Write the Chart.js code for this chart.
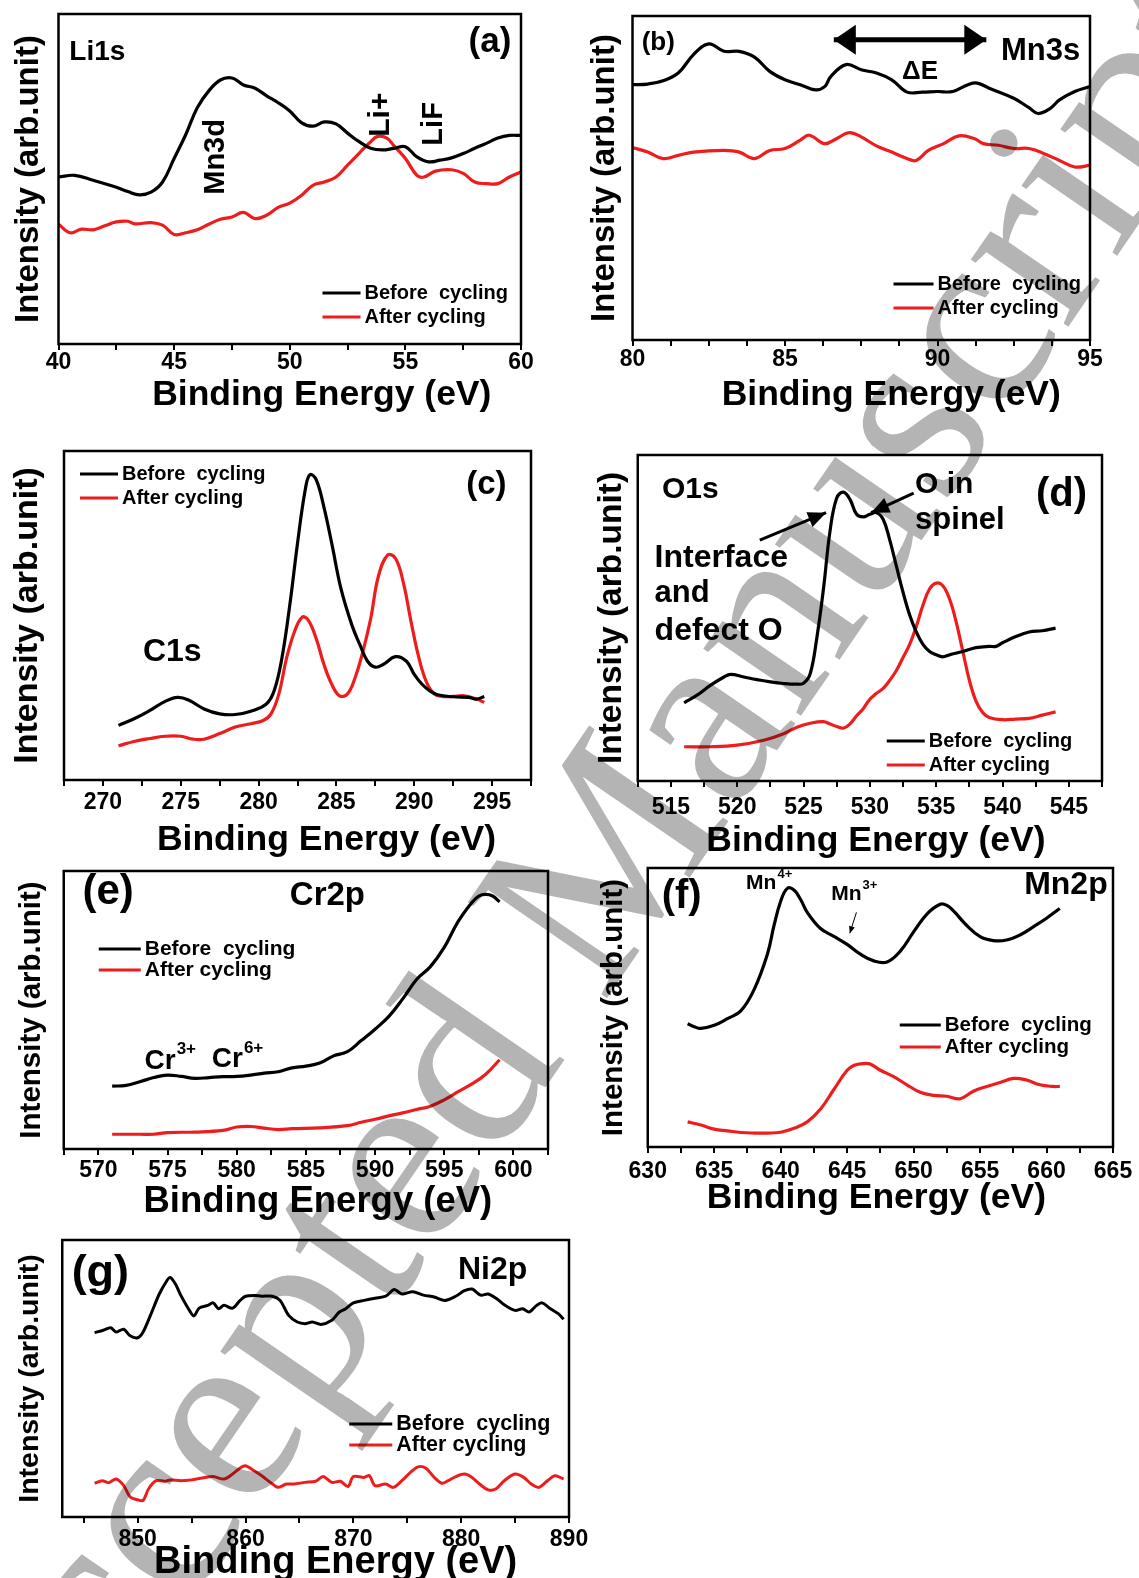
<!DOCTYPE html>
<html>
<head>
<meta charset="utf-8">
<script src="https://cdn.jsdelivr.net/npm/chart.js"></script>
<style>
  body { margin: 0; background: #fff; width: 1139px; height: 1578px; position: relative; overflow: hidden; }
  canvas { position: absolute; }
  #wm { position: absolute; left: 0; top: 0; pointer-events: none; mix-blend-mode: multiply; }
</style>
</head>
<body>
<script>
// ---- data (intensity in arbitrary units, 0-100 of each frame) ----
const aBeforeE = [40,40.7,41.5,42.5,43,43.5,44,44.5,45,45.5,46,46.5,47,47.5,48,48.5,49,49.5,50,50.5,51,51.5,52,52.5,53,53.5,54,54.5,55,55.5,56,56.5,57,57.5,58,58.5,59,59.5,60];
const aBeforeI = [50.6,51.1,49.6,47.5,46.2,45.2,46.0,49.1,56.2,63.4,71.6,76.7,80.0,80.6,78.5,77.5,75.2,73.1,70.6,67.1,66.0,67.3,66.7,63.9,61.3,59.3,58.8,59.3,59.8,56.7,55.2,55.7,56.4,57.7,59.3,60.8,62.4,63.2,63.2];
const aAfterE = [40,40.5,41,41.5,42,42.5,43,43.3,44,44.5,45,45.5,46,46.5,47,47.5,48,48.5,49,49.5,50,50.5,51,51.5,52,52.5,53,53.5,53.8,54.2,54.5,55,55.5,55.8,56.3,57,57.5,58,58.5,59,59.5,60];
const aAfterI = [36.3,33.7,34.8,34.6,35.8,37.0,37.2,36.4,36.8,36.0,33.2,33.7,34.6,36.3,37.8,38.5,39.9,38.0,39.0,41.4,42.7,45.0,48.1,49.1,50.6,54.2,57.8,61.3,62.9,62.4,60.1,56.2,51.1,50.6,52.4,52.8,51.7,49.1,48.6,48.6,50.6,52.1];

const bBeforeE = [80,80.5,81,81.5,82,82.5,83,83.5,84,84.5,85,85.5,86,86.3,86.5,87,87.5,88,88.5,89,89.5,90,90.5,91,91.3,91.7,92.5,93,93.3,93.7,94,94.5,95];
const bBeforeI = [78.8,79.0,80.0,82.4,88.1,91.4,89.1,89.1,87.3,82.9,80.3,78.8,77.2,78.2,81.3,85.0,83.4,82.4,80.3,76.5,76.5,76.7,76.7,78.8,79.3,77.7,74.6,71.7,69.9,71.5,74.1,76.7,78.2];
const bAfterE = [80,80.5,81,81.5,82,83,83.5,84,84.5,85,85.5,85.8,86.3,86.7,87.1,87.5,88,88.5,89,89.3,89.7,90.2,90.7,91.2,91.5,92,92.5,93,93.5,94,94.5,95];
const bAfterI = [59.4,58.0,56.0,57.0,58.0,58.5,58.0,56.0,58.5,59.1,61.7,63.2,60.6,62.2,64.0,62.7,59.9,58.0,56.0,55.4,58.5,60.6,63.0,62.2,60.6,60.1,59.1,59.1,57.5,55.4,53.4,53.9];

const cBeforeE = [271,272,273,274,274.8,275.5,276.5,277.5,278.5,279.5,280.5,281,281.5,282,282.5,283,283.3,283.7,284.2,284.7,285.3,286,286.5,287,287.5,288,288.8,289.5,290,290.5,291,291.5,292.5,293.5,294,294.5];
const cBeforeI = [16.6,18.6,21.1,23.9,25.1,24.3,21.6,20.1,19.9,20.9,23.1,27.1,37.1,53.0,71.9,88.3,92.8,91.3,82.9,71.9,58.0,47.0,41.2,36.1,34.3,35.1,37.5,36.1,32.1,29.1,27.1,25.9,25.3,25.1,24.6,25.4];
const cAfterE = [271,272,273,274,275,275.8,276.5,277.5,278.5,279.5,280.3,280.8,281.3,281.8,282.3,282.8,283.2,283.7,284.2,284.7,285.2,285.7,286.2,286.7,287.2,287.7,288.3,288.8,289.3,289.8,290.3,290.8,291.3,291.8,292.5,293.2,294,294.5];
const cAfterI = [10.4,11.7,12.6,13.3,13.3,12.4,12.4,14.1,16.1,17.1,18.1,20.1,26.1,37.1,45.0,49.5,48.5,43.0,35.1,29.1,25.6,26.1,31.1,39.0,49.0,62.0,68.4,67.3,60.0,48.0,37.1,29.6,26.1,25.4,25.4,25.6,24.6,23.6];

const dBeforeE = [516,517,518,519,519.5,520.5,521.5,522.5,523.5,524.5,525,525.5,526,526.5,527,527.5,528,528.5,529,529.5,530,530.5,531,531.5,532,532.5,533,533.5,534,534.5,535,535.5,536,537,538,539,539.5,540,541,542,543,544];
const dBeforeI = [24.0,26.4,29.4,31.9,32.7,31.9,31.1,30.4,29.9,29.7,30.0,32.9,43.9,58.9,76.8,86.8,88.6,86.4,81.8,81.0,81.8,82.3,80.3,73.9,65.9,57.9,50.9,45.7,41.9,39.7,38.7,38.1,38.7,39.7,40.9,41.3,41.3,42.4,44.3,45.7,46.1,46.9];
const dAfterE = [516,518,520,522,523.5,524.5,525.5,526.5,527,527.5,528,528.5,529,529.5,530,530.5,531,531.5,532,532.5,533,533.5,534,534.5,535,535.5,536,536.5,537,537.5,538,538.5,539,540,541,542,543,544];
const dAfterI = [10.5,10.5,11.0,12.5,14.5,16.5,17.7,18.2,17.5,16.7,16.2,17.5,20.0,22.2,25.1,26.9,28.4,30.9,33.9,37.9,41.9,47.4,53.9,58.9,60.7,59.9,55.9,48.9,39.9,30.9,24.5,21.0,19.5,18.8,19.0,19.2,20.2,21.2];

const eBeforeE = [571,572,573,574,575,576,577,578,579,580,581,582,583,584,585,586,587,588,589,590,591,592,593,594,595,596,597,597.5,598,598.5,599];
const eBeforeI = [22.6,22.9,24.2,25.7,26.6,26.1,25.4,25.7,26.0,26.1,26.6,27.3,27.8,29.2,29.8,30.9,33.5,35.0,39.0,43.1,47.7,54.0,61.0,65.6,72.5,81.8,88.7,91.0,91.6,91.0,88.9];
const eAfterE = [571,573,574,575,577,579,580,581,582,583,584,586,588,589,590,591,592,593,594,595,596,597,598,599];
const eAfterI = [5.3,5.3,5.3,5.9,6.1,6.7,7.9,8.1,7.5,7.0,7.3,7.6,8.4,9.6,10.7,11.9,13.0,14.2,15.4,17.7,20.6,23.4,26.9,32.1];

const fBeforeE = [633,633.5,634,635,636,637,638,639,639.5,640,640.5,641,641.5,642,643,644,645,646,647,648,649,650,651,652,652.5,653,654,655,656,657,658,659,660,661];
const fBeforeI = [44.2,43.1,42.5,43.6,46.0,48.8,56.4,69.1,79.4,88.1,92.7,92.1,88.7,84.1,78.3,75.5,72.6,69.1,66.7,66.3,70.2,77.1,83.5,87.0,86.6,84.6,79.4,75.4,74.0,74.2,76.0,78.9,82.0,85.5];
const fAfterE = [633,634,635,636,637,638,639,640,641,642,643,644,645,645.5,646,646.7,647.5,648.5,649.5,650.5,651.5,652.5,653.5,654.5,655.5,656.5,657.5,658.5,659.5,660.5,661];
const fAfterI = [9.0,7.9,6.4,5.8,5.2,5.0,5.0,5.3,6.7,9.0,13.6,20.6,27.5,29.2,29.8,29.8,27.5,25.2,22.3,19.6,18.5,18.2,17.3,20.0,21.7,23.1,24.6,24.0,22.3,21.7,21.7];

const gBeforeE = [846,846.8,847.5,848,848.7,849.3,850,850.5,851.2,852,852.7,853,853.5,854,854.7,855.2,855.7,856.5,857,857.5,858,858.8,859.5,860,860.8,861.5,862.5,863.2,864,864.8,865.5,866.2,867,868,868.7,869.3,870,871,872,873,873.8,874.5,875.5,876.5,877.5,878.5,879.5,880.3,881,881.8,882.5,883.3,884,885,885.7,886.3,887,887.5,888.2,889,889.5];
const gBeforeI = [66.6,67.4,68.3,66.8,67.8,65.4,64.7,66.8,73.0,80.5,85.3,86.5,84.1,80.0,75.2,72.6,75.4,76.4,77.3,75.2,76.4,75.4,78.2,79.7,80.0,79.7,79.7,78.2,72.8,70.4,69.8,70.4,69.5,71.0,74.0,75.2,77.3,78.2,79.0,79.7,82.1,80.5,81.3,80.1,79.4,78.2,79.7,81.7,82.3,80.1,80.5,78.8,76.6,74.6,75.2,74.0,76.4,77.3,75.4,73.4,71.4];
const gAfterE = [846,846.7,847.3,848,848.7,849.3,850,850.5,851,851.7,852.5,853,854,855,856,857,858,858.8,859.5,860,860.8,861.5,862.3,863,863.8,864.5,865.5,866.5,867.2,868,868.8,869.5,870,871,871.5,872,873,873.7,874.5,875.3,876,876.7,877.5,878.2,878.8,879.5,880.3,881,881.7,882.5,883.2,884,885,885.8,886.5,887.2,888,888.7,889.5];
const gAfterI = [12.2,13.1,12.4,13.7,11.3,7.2,6.2,6.0,10.1,13.1,12.9,13.4,13.1,13.4,14.1,14.6,13.7,15.5,17.7,18.5,16.7,14.9,12.5,10.7,11.9,11.9,12.5,12.9,14.6,12.5,12.9,11.0,14.6,14.3,14.9,11.3,11.9,10.7,13.1,16.1,18.1,17.7,14.3,12.2,13.1,14.6,15.5,14.3,11.9,9.8,10.1,13.1,15.5,14.3,11.9,10.7,13.1,14.9,13.7];

// tick labels of each energy axis
const aTickLabels = [40,45,50,55,60];
const bTickLabels = [80,85,90,95];
const cTickLabels = [270,275,280,285,290,295];
const dTickLabels = [515,520,525,530,535,540,545];
const eTickLabels = [570,575,580,585,590,595,600];
const fTickLabels = [630,635,640,645,650,655,660,665];
const gTickLabels = [850,860,870,880,890];

const seriesNames = ['Before  cycling', 'After cycling'];
const seriesColors = ['#000000', '#ee1c1c'];

// ---- drawing helpers ----
const FONT = '"Liberation Sans", Arial, sans-serif';

function pts(E, I) {
    return E.map((e, i) => ({ x: e, y: I[i] }));
}

function range(a, b, step) {
    const out = [];
    for (let v = a; v <= b + 1e-9; v += step) out.push(Math.round(v * 100) / 100);
    return out;
}

function head(g, x1, y1, x2, y2, len, w) {
    const ang = Math.atan2(y2 - y1, x2 - x1);
    const bx = x2 - len * Math.cos(ang), by = y2 - len * Math.sin(ang);
    g.beginPath();
    g.moveTo(x2, y2);
    g.lineTo(bx + w * Math.sin(ang), by - w * Math.cos(ang));
    g.lineTo(bx - w * Math.sin(ang), by + w * Math.cos(ang));
    g.closePath();
    g.fill();
}

// frame round the plot area
const framePlugin = {
    id: 'frame',
    afterDatasetsDraw(chart) {
        const a = chart.chartArea, g = chart.ctx;
        g.save();
        g.lineWidth = 2.5;
        g.strokeStyle = '#000';
        g.strokeRect(a.left, a.top, a.right - a.left, a.bottom - a.top);
        g.restore();
    }
};

// x title sits a little off centre in the original, so it is drawn here
const xTitlePlugin = {
    id: 'xtitle',
    afterDraw(chart, args, o) {
        const g = chart.ctx, a = chart.chartArea;
        g.save();
        g.font = `bold ${o.size}px ${FONT}`;
        g.fillStyle = '#000';
        g.textAlign = 'center';
        g.textBaseline = 'middle';
        g.fillText(chart.options.scales.x.title.text, (a.left + a.right) / 2 + o.dx, a.bottom + o.dy);
        g.restore();
    }
};

// legend drawn inside the frame
const keyPlugin = {
    id: 'key',
    afterDraw(chart, args, o) {
        if (!o || o.x == null) return;
        const g = chart.ctx, a = chart.chartArea;
        g.save();
        g.font = `bold ${o.size}px ${FONT}`;
        g.textBaseline = 'middle';
        chart.data.datasets.forEach((d, i) => {
            const x = a.left + o.x, y = a.top + o.y + i * o.dy;
            g.strokeStyle = d.borderColor;
            g.lineWidth = 3;
            g.beginPath(); g.moveTo(x, y); g.lineTo(x + o.len, y); g.stroke();
            g.fillStyle = '#000';
            g.fillText(d.label, x + o.len + 4, y);
        });
        g.restore();
    }
};

// text labels and arrows placed in data coordinates
const notesPlugin = {
    id: 'notes',
    afterDraw(chart, args, o) {
        const g = chart.ctx, sx = chart.scales.x, sy = chart.scales.y;
        g.save();
        g.fillStyle = '#000';
        g.strokeStyle = '#000';
        (o.arrows || []).forEach(r => {
            const x1 = sx.getPixelForValue(r.x1), y1 = sy.getPixelForValue(r.y1);
            const x2 = sx.getPixelForValue(r.x2), y2 = sy.getPixelForValue(r.y2);
            g.lineWidth = r.lw;
            g.beginPath(); g.moveTo(x1, y1); g.lineTo(x2, y2); g.stroke();
            head(g, x1, y1, x2, y2, r.len, r.w);
            if (r.both) head(g, x2, y2, x1, y1, r.len, r.w);
        });
        (o.items || []).forEach(n => {
            const x = sx.getPixelForValue(n.x), y = sy.getPixelForValue(n.y);
            g.save();
            g.translate(x, y);
            if (n.rot) g.rotate(n.rot * Math.PI / 180);
            g.font = `bold ${n.size}px ${FONT}`;
            g.textAlign = n.align || 'left';
            g.textBaseline = 'middle';
            g.fillText(n.t, 0, 0);
            if (n.sup) {
                const w = g.measureText(n.t).width;
                g.font = `bold ${Math.round(n.size * 0.6)}px ${FONT}`;
                g.textAlign = 'left';
                g.fillText(n.sup, w + 1, -n.size * 0.42);
            }
            g.restore();
        });
        g.restore();
    }
};

function panel(p) {
    const yw = p.yd + p.ysize / 2, xh = p.xd + 26, pt = 12, pr = 30;
    const [L, T, R, B] = p.box;
    const c = document.createElement('canvas');
    c.width = (R - L) + yw + pr;
    c.height = (B - T) + pt + xh;
    c.style.left = (L - yw) + 'px';
    c.style.top = (T - pt) + 'px';
    document.body.appendChild(c);

    const ticks = range(p.min0, p.max, p.step);
    new Chart(c, {
        type: 'line',
        data: {
            datasets: p.series.map((s, i) => ({
                label: seriesNames[i],
                data: pts(s[0], s[1]),
                borderColor: seriesColors[i],
                borderWidth: p.lw || 3.2,
                pointRadius: 0,
                tension: p.tension || 0.4,
                fill: false
            }))
        },
        options: {
            responsive: false,
            animation: false,
            events: [],
            layout: { padding: { left: 0, top: pt, right: pr, bottom: 0 } },
            scales: {
                x: {
                    type: 'linear',
                    min: p.min,
                    max: p.max,
                    afterBuildTicks: s => { s.ticks = ticks.map(v => ({ value: v })); },
                    afterFit: s => { s.height = xh; },
                    ticks: {
                        autoSkip: false, maxRotation: 0, padding: p.tp, color: '#000',
                        font: { family: FONT, size: 23, weight: 'bold', lineHeight: 1 },
                        callback: v => p.labels.includes(v) ? String(v) : ''
                    },
                    grid: { drawOnChartArea: false, drawTicks: true, tickLength: 6, color: '#000', lineWidth: 2 },
                    border: { display: false },
                    title: { display: false, text: 'Binding Energy (eV)' }
                },
                y: {
                    min: 0, max: 100,
                    afterFit: s => { s.width = yw; },
                    ticks: { display: false },
                    grid: { display: false },
                    border: { display: false },
                    title: {
                        display: true, text: 'Intensity (arb.unit)', color: '#000', padding: 0,
                        font: { family: FONT, size: p.ysize, weight: 'bold', lineHeight: 1 }
                    }
                }
            },
            plugins: {
                legend: { display: false },
                tooltip: { enabled: false },
                xtitle: { size: p.xsize, dx: p.xdx, dy: p.xd },
                key: p.key,
                notes: { items: p.notes || [], arrows: p.arrows || [] }
            }
        },
        plugins: [framePlugin, xTitlePlugin, keyPlugin, notesPlugin]
    });
}

panel({
    box: [58, 14, 521, 344], yd: 30, ysize: 33, xd: 51, xsize: 35.5, xdx: 32, tp: 1,
    min: 40, min0: 40, max: 60, step: 2.5, labels: aTickLabels,
    series: [[aBeforeE, aBeforeI], [aAfterE, aAfterI]],
    key: { x: 264, y: 279, dy: 24, len: 38, size: 20 },
    notes: [
        { t: 'Li1s', x: 40.47, y: 88.4, size: 28 },
        { t: '(a)', x: 59.58, y: 91.5, size: 35, align: 'right' },
        { t: 'Mn3d', x: 46.8, y: 56.7, size: 29, align: 'center', rot: -90 },
        { t: 'Li+', x: 53.95, y: 69.5, size: 30, align: 'center', rot: -90 },
        { t: 'LiF', x: 56.25, y: 66.7, size: 29, align: 'center', rot: -90 }
    ]
});

panel({
    box: [632, 16, 1090, 340], yd: 28, ysize: 33, xd: 55, xsize: 35.5, xdx: 30, tp: 2,
    min: 80, min0: 80, max: 95, step: 1.25, labels: bTickLabels,
    series: [[bBeforeE, bBeforeI], [bAfterE, bAfterI]],
    key: { x: 261, y: 268, dy: 24, len: 40, size: 20 },
    notes: [
        { t: '(b)', x: 80.3, y: 91.7, size: 26 },
        { t: '\u0394E', x: 89.43, y: 82.9, size: 26, align: 'center' },
        { t: 'Mn3s', x: 94.68, y: 89.1, size: 31, align: 'right' }
    ],
    arrows: [{ x1: 86.6, y1: 92.7, x2: 91.6, y2: 92.7, lw: 5, len: 22, w: 15, both: true }]
});

panel({
    box: [64, 451, 531, 780], yd: 36, ysize: 34, xd: 60, xsize: 35.5, xdx: 29, tp: 5,
    min: 267.5, min0: 267.5, max: 297.5, step: 2.5, labels: cTickLabels,
    series: [[cBeforeE, cBeforeI], [cAfterE, cAfterI]],
    key: { x: 16, y: 23, dy: 24, len: 38, size: 20 },
    notes: [
        { t: '(c)', x: 295.93, y: 89.8, size: 33, align: 'right' },
        { t: 'C1s', x: 272.57, y: 39.0, size: 32 }
    ]
});

panel({
    box: [638, 455, 1103, 781], yd: 26, ysize: 33.5, xd: 60, xsize: 35.5, xdx: 6, tp: 9,
    min: 512.5, min0: 512.5, max: 547.5, step: 2.5, labels: dTickLabels,
    series: [[dBeforeE, dBeforeI], [dAfterE, dAfterI]],
    key: { x: 249, y: 286, dy: 24, len: 38, size: 20 },
    notes: [
        { t: 'O1s', x: 514.32, y: 89.3, size: 30 },
        { t: '(d)', x: 546.37, y: 87.8, size: 40, align: 'right' },
        { t: 'O in', x: 533.41, y: 90.8, size: 30 },
        { t: 'spinel', x: 533.41, y: 79.8, size: 31 },
        { t: 'Interface', x: 513.77, y: 68.4, size: 32 },
        { t: 'and', x: 513.77, y: 57.4, size: 31 },
        { t: 'defect O', x: 513.77, y: 45.9, size: 32 }
    ],
    arrows: [
        { x1: 521.7, y1: 73.9, x2: 526.7, y2: 82.3, lw: 3, len: 18, w: 8 },
        { x1: 533.3, y1: 88.3, x2: 530.1, y2: 82.3, lw: 3, len: 18, w: 8 }
    ]
});

panel({
    box: [64, 871, 549, 1149], yd: 32, ysize: 29.5, xd: 53, xsize: 36.5, xdx: 12, tp: 4,
    min: 567.5, min0: 567.5, max: 602.5, step: 2.5, labels: eTickLabels,
    series: [[eBeforeE, eBeforeI], [eAfterE, eAfterI]],
    key: { x: 35, y: 78, dy: 21, len: 42, size: 21 },
    notes: [
        { t: '(e)', x: 568.85, y: 92.3, size: 42 },
        { t: 'Cr2p', x: 583.84, y: 91.1, size: 33 },
        { t: 'Cr', x: 573.34, y: 31.5, size: 28, sup: '3+' },
        { t: 'Cr', x: 578.2, y: 32.1, size: 28, sup: '6+' }
    ]
});

panel({
    box: [648, 868, 1114, 1147], yd: 34, ysize: 29.5, xd: 51, xsize: 35.5, xdx: -4, tp: 7,
    min: 630, min0: 630, max: 665, step: 2.5, labels: fTickLabels,
    series: [[fBeforeE, fBeforeI], [fAfterE, fAfterI]],
    key: { x: 252, y: 157, dy: 22, len: 41, size: 20.5 },
    notes: [
        { t: '(f)', x: 631.05, y: 89.7, size: 40 },
        { t: 'Mn2p', x: 664.6, y: 93.8, size: 32, align: 'right' },
        { t: 'Mn', x: 637.4, y: 94.4, size: 21, sup: '4+' },
        { t: 'Mn', x: 643.8, y: 90.6, size: 21, sup: '3+' }
    ],
    arrows: [{ x1: 645.7, y1: 84.1, x2: 645.2, y2: 76.6, lw: 1, len: 7, w: 3 }]
});

panel({
    box: [62, 1240, 569, 1517], yd: 32, ysize: 28.5, xd: 46, xsize: 38, xdx: 20, tp: 5,
    min: 843, min0: 845, max: 890, step: 5, labels: gTickLabels,
    series: [[gBeforeE, gBeforeI], [gAfterE, gAfterI]],
    tension: 0.3, lw: 3,
    key: { x: 287, y: 184, dy: 21, len: 43, size: 21.5 },
    notes: [
        { t: '(g)', x: 843.87, y: 87.8, size: 45 },
        { t: 'Ni2p', x: 879.7, y: 89.2, size: 32 }
    ]
});
</script>
<svg id="wm" width="1139" height="1578">
  <text x="14.5" y="1860" transform="rotate(-55.5 14.5 1860)" font-family="Liberation Serif, Times New Roman, serif" font-size="258" fill="#b4b4b4">Accepted Manuscript</text>
</svg>
</body>
</html>
